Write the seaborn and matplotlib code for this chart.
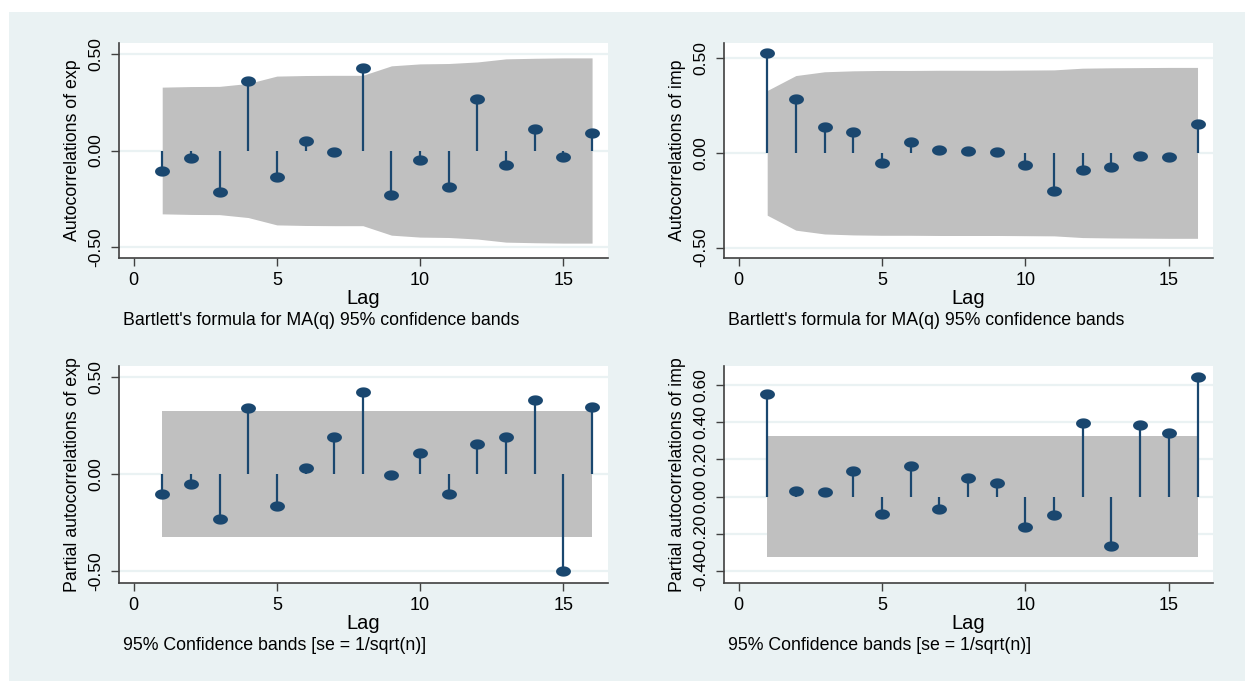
import numpy as np
import matplotlib
matplotlib.use('Agg')
import matplotlib.pyplot as plt
from matplotlib.path import Path
from matplotlib.patches import Rectangle
import seaborn as sns

# ---------------------------------------------------------
# Data
# ---------------------------------------------------------
lags = list(range(1, 17))

acf_exp = [-0.106, -0.041, -0.216, 0.358, -0.135, 0.048, -0.010, 0.426,
           -0.229, -0.048, -0.188, 0.267, -0.077, 0.110, -0.033, 0.091]
acf_exp_band = [0.327, 0.330, 0.331, 0.346, 0.384, 0.387, 0.388, 0.388,
                0.437, 0.447, 0.449, 0.457, 0.473, 0.476, 0.478, 0.478]

acf_imp = [0.525, 0.283, 0.136, 0.111, -0.056, 0.058, 0.014, 0.012,
           0.004, -0.063, -0.199, -0.088, -0.077, -0.014, -0.023, 0.150]
acf_imp_band = [0.329, 0.408, 0.428, 0.433, 0.435, 0.435, 0.436, 0.436,
                0.436, 0.437, 0.438, 0.447, 0.449, 0.450, 0.451, 0.451]

pacf_exp = [-0.106, -0.053, -0.233, 0.341, -0.166, 0.031, 0.192, 0.423,
            -0.007, 0.106, -0.103, 0.156, 0.192, 0.382, -0.498, 0.342]
pacf_imp = [0.554, 0.032, 0.027, 0.138, -0.095, 0.165, -0.065, 0.099,
            0.074, -0.163, -0.100, 0.395, -0.265, 0.384, 0.344, 0.646]
pacf_band = [0.325] * 16

x_ticks = [0, 5, 10, 15]
note_acf = "Bartlett's formula for MA(q) 95% confidence bands"
note_pacf = "95% Confidence bands [se = 1/sqrt(n)]"

# ---------------------------------------------------------
# Style
# ---------------------------------------------------------
NAVY = '#1a476f'
BAND = '#c0c0c0'
BG = '#eaf2f3'
AXIS = '#404040'

sns.set_theme(style='white')
plt.rcParams['font.family'] = ['Liberation Sans', 'DejaVu Sans']

# Stata's markers look slightly squashed in this export
theta = np.linspace(0, 2 * np.pi, 60)
ellipse = Path(np.column_stack([1.45 * np.cos(theta), np.sin(theta)]), closed=True)

fig = plt.figure(figsize=(12.45, 6.81), dpi=100)
fig.patches.append(Rectangle((9 / 1245, 0), 1, 1 - 12 / 681, transform=fig.transFigure,
                             facecolor=BG, edgecolor='none', zorder=-1))

panels = [
    # position, values, band, ylabel, yticks, ylim, note
    ([0.0953, 0.6211, 0.3927, 0.3158], acf_exp, acf_exp_band, 'Autocorrelations of exp',
     [-0.5, 0.0, 0.5], (-0.555, 0.555), note_acf),
    ([0.5812, 0.6211, 0.3931, 0.3158], acf_imp, acf_imp_band, 'Autocorrelations of imp',
     [-0.5, 0.0, 0.5], (-0.555, 0.58), note_acf),
    ([0.0953, 0.1444, 0.3927, 0.3182], pacf_exp, pacf_band, 'Partial autocorrelations of exp',
     [-0.5, 0.0, 0.5], (-0.56, 0.555), note_pacf),
    ([0.5812, 0.1444, 0.3931, 0.3182], pacf_imp, pacf_band, 'Partial autocorrelations of imp',
     [-0.4, -0.2, 0.0, 0.2, 0.4, 0.6], (-0.463, 0.703), note_pacf),
]

for pos, vals, band, ylabel, yticks, ylim, note in panels:
    ax = fig.add_axes(pos)
    ax.set_facecolor('white')
    ax.set_axisbelow(True)

    band = np.array(band)
    ax.fill_between(lags, -band, band, color=BAND, lw=0, zorder=2)
    ax.vlines(lags, 0, vals, color=NAVY, lw=1.6, zorder=3)
    sns.scatterplot(x=lags, y=vals, ax=ax, marker=ellipse, s=115, color=NAVY,
                    edgecolor=NAVY, linewidth=0, zorder=4)

    ax.set_xlim(-0.52, 16.54)
    ax.set_ylim(*ylim)
    ax.set_xticks(x_ticks)
    ax.set_yticks(yticks)
    ax.set_yticklabels([f'{t:.2f}' for t in yticks])
    ax.yaxis.grid(True, color=BG, lw=1.6)
    ax.xaxis.grid(False)

    for side in ['top', 'right']:
        ax.spines[side].set_visible(False)
    for side in ['left', 'bottom']:
        ax.spines[side].set_color(AXIS)
        ax.spines[side].set_linewidth(1.2)

    ax.tick_params(axis='both', direction='out', length=6, width=1, color=AXIS,
                   labelcolor='black', left=True, bottom=True)
    ax.tick_params(axis='x', pad=4, labelsize=13)
    ax.tick_params(axis='y', pad=5, labelsize=12.5)
    for lbl in ax.get_yticklabels():
        lbl.set_rotation(90)
        lbl.set_va('center')

    ax.set_xlabel('Lag', fontsize=14.5, labelpad=0, color='black')
    ax.set_ylabel(ylabel, fontsize=12.8, labelpad=5, color='black')
    ax.text(0.009, -0.312, note, transform=ax.transAxes, fontsize=12.8,
            ha='left', va='baseline', color='black')

fig.savefig('out.png', dpi=100, facecolor='white')
plt.close(fig)
